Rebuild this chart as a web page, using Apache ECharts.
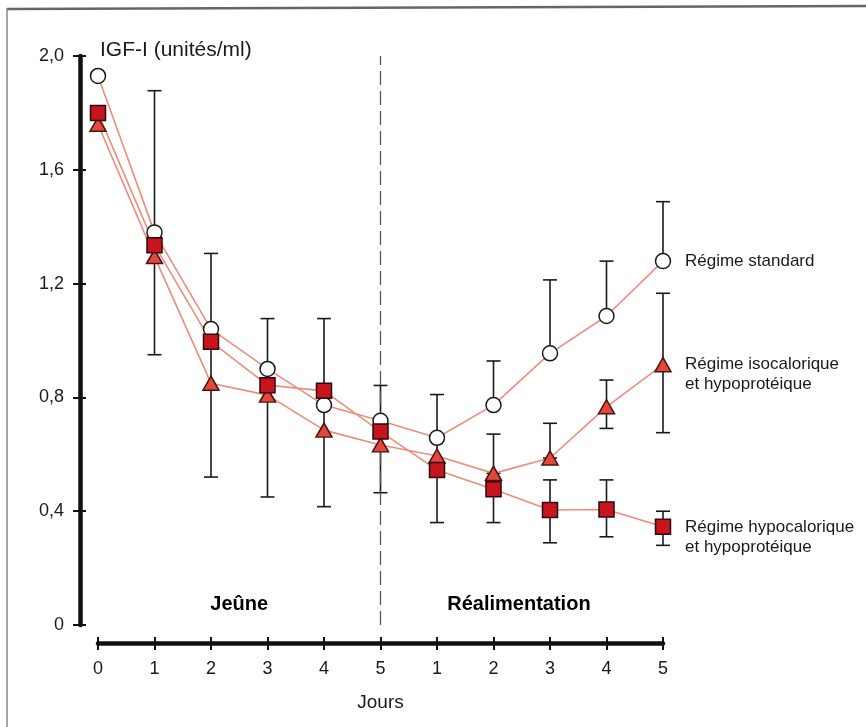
<!DOCTYPE html>
<html>
<head>
<meta charset="utf-8">
<script src="https://cdn.jsdelivr.net/npm/echarts@6/dist/echarts.min.js"></script>
<style>
html,body{margin:0;padding:0;background:#fff;}
#chart{width:866px;height:727px;}
</style>
</head>
<body>
<div id="chart"></div>
<script>
// ---- data ----
const dayIndex = [0, 1, 2, 3, 4, 5, 6, 7, 8, 9, 10];
const xTickLabels = ['0', '1', '2', '3', '4', '5', '1', '2', '3', '4', '5'];
const yTickValues = [0, 0.4, 0.8, 1.2, 1.6, 2.0];
const yTickLabels = ['0', '0,4', '0,8', '1,2', '1,6', '2,0'];

const seriesNames = ['Régime standard', 'Régime isocalorique\net hypoprotéique', 'Régime hypocalorique\net hypoprotéique'];
const standard = [1.93, 1.38, 1.04, 0.90, 0.773, 0.718, 0.658, 0.773, 0.955, 1.086, 1.279];
const isocal   = [1.76, 1.295, 0.85, 0.808, 0.685, 0.633, 0.594, 0.533, 0.587, 0.767, 0.915];
const hypocal  = [1.80, 1.335, 0.996, 0.843, 0.823, 0.68, 0.545, 0.477, 0.404, 0.406, 0.345];

// error bars: x position, low, high
const errX    = [1, 2, 3, 4, 5, 6, 7, 7, 7, 8, 8, 8, 9, 9, 9, 10, 10, 10];
const errLow  = [0.95, 0.52, 0.45, 0.416, 0.465, 0.36, 0.773, 0.533, 0.36, 0.955, 0.587, 0.289, 1.086, 0.691, 0.31, 1.279, 0.676, 0.28];
const errHigh = [1.878, 1.306, 1.077, 1.077, 0.842, 0.81, 0.928, 0.671, 0.477, 1.213, 0.709, 0.51, 1.279, 0.861, 0.51, 1.488, 1.166, 0.40];

const phaseNames = ['Jeûne', 'Réalimentation'];
const phaseX = [2.5, 7.45];
const phaseY = [0.035, 0.035];

const separatorX = 5;
const axisTitleY = 'IGF-I (unités/ml)';
const axisTitleX = 'Jours';

// ---- chart ----
const chart = echarts.init(document.getElementById('chart'), null, {renderer: 'canvas'});
const FONT = '"Liberation Sans", Arial, sans-serif';
const lineColor = '#ec8d7b';

const toPairs = arr => dayIndex.map((d, i) => [d, arr[i]]);

const markerSeries = (name, data, symbol, size, fill, border, z) => ({
  type: 'scatter', name: name + '_m', data: toPairs(data), symbol: symbol, symbolSize: size,
  itemStyle: {color: fill, borderColor: border, borderWidth: 1.5, opacity: 1},
  z: z, silent: true
});

const lineSeries = (name, data, offsetY) => ({
  type: 'line', name: name, data: toPairs(data), showSymbol: false, symbol: 'none',
  lineStyle: {color: lineColor, width: 1.6}, z: 3, silent: true, clip: false,
  endLabel: {
    show: true, formatter: name, distance: 22, color: '#1a1a1a',
    fontFamily: FONT, fontSize: 17, lineHeight: 20, align: 'left', offset: [0, offsetY]
  }
});

const sep = lineSeries(seriesNames[0], standard, 0);
sep.markLine = {
  silent: true, symbol: ['none', 'none'], label: {show: false},
  lineStyle: {color: '#555', width: 1.3, type: [14, 6]},
  data: [{xAxis: separatorX}]
};

const option = {
  animation: false,
  backgroundColor: '#ffffff',
  grid: {left: 98, right: 203, top: 56, bottom: 102, containLabel: false},
  xAxis: [{
    type: 'value', min: 0, max: 10, interval: 1, offset: 18,
    axisLine: {show: true, onZero: false, lineStyle: {color: '#111', width: 4.5}},
    axisTick: {show: true, length: 7, lineStyle: {color: '#111', width: 2}},
    axisLabel: {margin: 17, color: '#1a1a1a', fontFamily: FONT, fontSize: 18,
      formatter: v => xTickLabels[Math.round(v)]},
    splitLine: {show: false},
    name: axisTitleX, nameLocation: 'middle', nameGap: 50,
    nameTextStyle: {color: '#1a1a1a', fontFamily: FONT, fontSize: 19}
  }, {
    type: 'value', min: 0, max: 10, interval: 1, offset: 18, position: 'bottom',
    axisLine: {show: true, onZero: false, lineStyle: {color: '#111', width: 0, opacity: 0}},
    axisLabel: {show: false}, splitLine: {show: false},
    axisTick: {show: true, inside: true, length: 6, lineStyle: {color: '#111', width: 2}}
  }],
  yAxis: [{
    type: 'value', min: 0, max: 2, interval: 0.4, offset: 18,
    axisLine: {show: true, onZero: false, lineStyle: {color: '#111', width: 4.5}},
    axisTick: {show: true, length: 7, lineStyle: {color: '#111', width: 2}},
    axisLabel: {margin: 16, color: '#1a1a1a', fontFamily: FONT, fontSize: 18,
      formatter: v => { const i = yTickValues.findIndex(t => Math.abs(t - v) < 1e-6); return i >= 0 ? yTickLabels[i] : ''; }},
    splitLine: {show: false},
    name: axisTitleY, nameLocation: 'end', nameGap: 6,
    nameTextStyle: {color: '#1a1a1a', fontFamily: FONT, fontSize: 21, align: 'left', verticalAlign: 'middle', padding: [0, 0, 0, 20]}
  }, {
    type: 'value', min: 0, max: 2, interval: 0.4, offset: 18, position: 'left',
    axisLine: {show: true, onZero: false, lineStyle: {color: '#111', width: 0, opacity: 0}},
    axisLabel: {show: false}, splitLine: {show: false},
    axisTick: {show: true, inside: true, length: 6, lineStyle: {color: '#111', width: 2}}
  }],
  graphic: [
    {type: 'line', shape: {x1: 7, y1: 9, x2: 866, y2: 6}, style: {stroke: '#666', lineWidth: 2.5}, silent: true},
    {type: 'line', shape: {x1: 7, y1: 8, x2: 7, y2: 727}, style: {stroke: '#888', lineWidth: 1.5}, silent: true}
  ],
  series: [
    {
      type: 'custom', name: 'errorbars', z: 2, silent: true,
      data: errX.map((x, i) => [x, errLow[i], errHigh[i]]),
      renderItem: function (params, api) {
        const x = api.value(0);
        const lo = api.coord([x, api.value(1)]);
        const hi = api.coord([x, api.value(2)]);
        const w = 7;
        const st = {stroke: '#1a1a1a', lineWidth: 1.6};
        return {type: 'group', children: [
          {type: 'line', shape: {x1: lo[0], y1: lo[1], x2: hi[0], y2: hi[1]}, style: st},
          {type: 'line', shape: {x1: lo[0] - w, y1: lo[1], x2: lo[0] + w, y2: lo[1]}, style: st},
          {type: 'line', shape: {x1: hi[0] - w, y1: hi[1], x2: hi[0] + w, y2: hi[1]}, style: st}
        ]};
      }
    },
    sep,
    lineSeries(seriesNames[1], isocal, 10),
    lineSeries(seriesNames[2], hypocal, 10),
    markerSeries(seriesNames[0], standard, 'circle', 15, '#ffffff', '#1a1a1a', 5),
    markerSeries(seriesNames[1], isocal, 'triangle', [16, 14], '#e5483b', '#4a1510', 6),
    markerSeries(seriesNames[2], hypocal, 'rect', 15, '#c8141c', '#2a0a0a', 7),
    {
      type: 'scatter', name: 'phases', symbol: 'circle', symbolSize: 1, silent: true, z: 8,
      itemStyle: {opacity: 0},
      data: phaseNames.map((n, i) => ({name: n, value: [phaseX[i], phaseY[i]]})),
      label: {show: true, position: 'top', distance: 0, formatter: p => p.name, color: '#000',
        opacity: 1, fontFamily: FONT, fontSize: 20, fontWeight: 'bold'}
    }
  ]
};
chart.setOption(option);
</script>
</body>
</html>
